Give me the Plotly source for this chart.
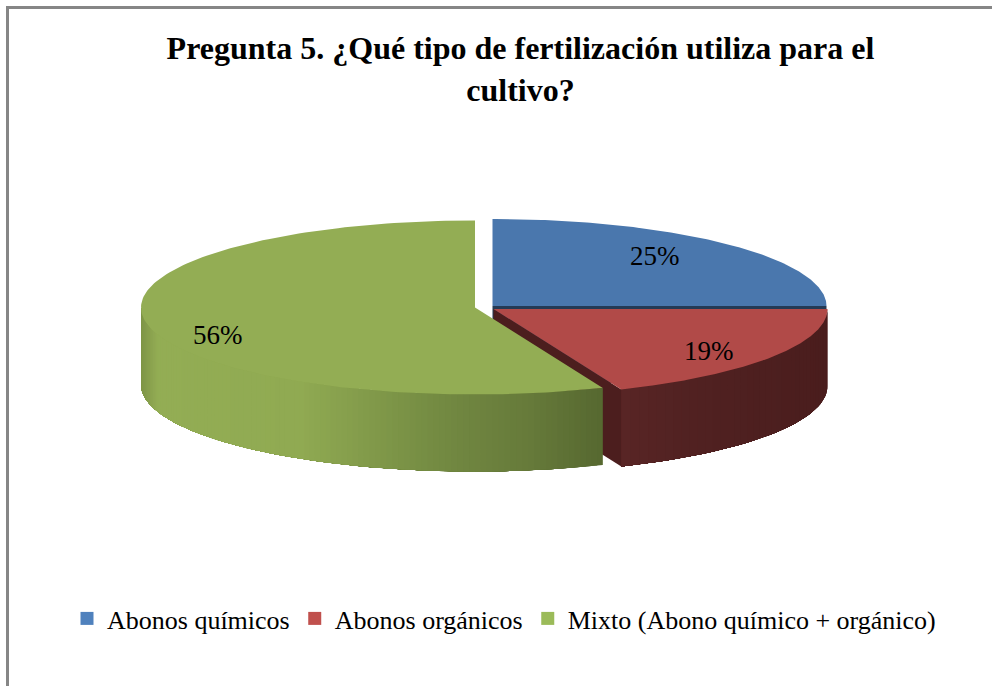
import numpy as np
import plotly.graph_objects as go

# Data
categories = ["Abonos químicos", "Abonos orgánicos", "Mixto (Abono químico + orgánico)"]
counts = [4, 3, 9]
title_lines = ["Pregunta 5. ¿Qué tipo de fertilización utiliza para el", "cultivo?"]

# Style
top_colors = ["#4A77AD", "#B14A48", "#93AD54"]
legend_colors = ["#4F81BD", "#C0504D", "#9BBB59"]
centers = [(492.5, 306.0), (493.5, 309.0), (475.0, 307.5)]
label_xy = [(655, 256), (709, 351), (218, 335)]
RX, RY, DEPTH = 334.0, 87.0, 77.0

total = sum(counts)
pct = [c / total for c in counts]
edges = np.cumsum([0] + pct) * 2 * np.pi


def ell(c, t):
    return c[0] + RX * np.sin(t), c[1] - RY * np.cos(t)


def hex2rgb(h):
    return np.array([int(h[i:i + 2], 16) for i in (1, 3, 5)], float)


def ramp(x, stops):
    xs = [s[0] for s in stops]
    rgb = np.array([hex2rgb(s[1]) for s in stops])
    v = [np.interp(x, xs, rgb[:, i]) for i in range(3)]
    return "rgb(%d,%d,%d)" % tuple(round(a) for a in v)


def poly(fig, x, y, color, lw=0.0):
    fig.add_trace(go.Scatter(x=list(x) + [x[0]], y=list(y) + [y[0]], mode="lines", fill="toself",
                             fillcolor=color, line=dict(color=color, width=lw),
                             hoverinfo="skip", showlegend=False))


def outer_wall(fig, c, a0, a1, stops, n):
    # painter's order: each band runs to the far end, so no seams appear between bands
    ts = np.linspace(a0, a1, n + 1)
    for i, t0 in enumerate(ts[:-1]):
        tt = np.linspace(t0, a1, max(4, n - i))
        xx, yy = ell(c, tt)
        xmid = ell(c, (t0 + ts[i + 1]) / 2)[0]
        px = list(xx) + list(xx[::-1])
        py = list(yy) + list((yy + DEPTH)[::-1])
        poly(fig, px, py, ramp(xmid, stops))


def top(fig, c, a0, a1, color):
    tt = np.linspace(a0, a1, 160)
    xx, yy = ell(c, tt)
    poly(fig, [c[0]] + list(xx), [c[1]] + list(yy), color)


def cut_wall(fig, c, a, color):
    ex, ey = ell(c, a)
    poly(fig, [c[0], ex, ex, c[0]], [c[1], ey, ey + DEPTH, c[1] + DEPTH], color)


fig = go.Figure()

# blue slice: only a thin dark rim along its straight edge shows
cut_wall(fig, centers[0], edges[1], "#243A55")
top(fig, centers[0], edges[0], edges[1], top_colors[0])

# red slice
cut_wall(fig, centers[1], edges[2], "#4C1E1E")
outer_wall(fig, centers[1], edges[1], edges[2], [(621, "#582525"), (700, "#502121"), (827, "#4A1D1D")], 40)
top(fig, centers[1], edges[1], edges[2], top_colors[1])

# green slice
outer_wall(fig, centers[2], edges[2], 1.5 * np.pi,
           [(142, "#7F9648"), (158, "#93AD54"), (300, "#90AA52"), (440, "#738A42"), (530, "#667A3A"), (603, "#566830")], 110)
top(fig, centers[2], edges[2], edges[3], top_colors[2])

# legend entries
for name, col in zip(categories, legend_colors):
    fig.add_trace(go.Scatter(x=[None], y=[None], mode="markers", name=name,
                             marker=dict(symbol="square", size=13, color=col)))

for c, xy in zip(counts, label_xy):
    fig.add_annotation(x=xy[0], y=xy[1], text=f"{round(100 * c / total)}%", showarrow=False,
                       font=dict(family="Liberation Serif", size=27, color="#000000"))

fig.add_shape(type="rect", x0=7.5, y0=7.5, x1=1100, y1=800, line=dict(color="#868686", width=3), layer="below")

fig.update_layout(
    width=992, height=686, autosize=False,
    margin=dict(l=0, r=0, t=0, b=0),
    paper_bgcolor="#FFFFFF", plot_bgcolor="#FFFFFF",
    xaxis=dict(range=[0, 992], visible=False, fixedrange=True),
    yaxis=dict(range=[686, 0], visible=False, fixedrange=True),
    title=dict(text="<br>".join(title_lines), x=520.5 / 992, xanchor="center", y=1 - 59 / 686, yanchor="middle",
               font=dict(family="Liberation Serif", size=32, color="#000000", weight="bold")),
    font=dict(family="Liberation Serif", size=26, color="#000000"),
    legend=dict(orientation="h", x=67 / 992, xanchor="left", y=1 - 595 / 686, yanchor="top",
                font=dict(size=26), bgcolor="rgba(0,0,0,0)", itemclick=False, itemdoubleclick=False),
)

fig.write_html("out.html", config={"displayModeBar": False},
               post_script="document.body.style.margin='0';document.body.style.overflow='hidden';")
